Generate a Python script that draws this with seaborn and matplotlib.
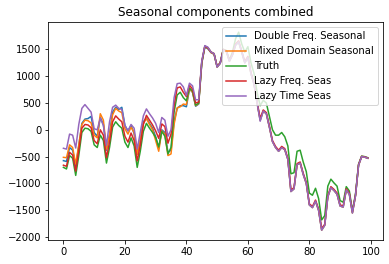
import matplotlib
matplotlib.use("Agg")
import matplotlib.pyplot as plt
import seaborn as sns
import numpy as np
import pandas as pd

x = list(range(100))

truth = [-700, -730, -480, -530, -850, -480, -50, 30, 20, -30,
         -280, -330, -100, -200, -620, -330, 50, 150, 80, 30,
         -230, -330, -150, -300, -700, -400, -30, 120, 30, -50,
         -140, -320, -30, -120, -450, -330, 330, 650, 700, 600,
         540, 780, 720, 460, 500, 1250, 1560, 1530, 1450, 1420,
         1180, 1250, 1500, 1480, 1300, 1450, 1700, 1820, 1600, 1450,
         1550, 1250, 1050, 700, 450, 550, 500, 250, 0, -100,
         -100, -50, -130, -300, -820, -800, -400, -380, -600, -780,
         -1180, -1220, -1090, -1280, -1680, -1600, -1050, -920, -990, -1050,
         -1320, -1350, -1060, -1140, -1510, -1200, -640, -490, -500, -520]

double_freq = [-575, -590, -330, -380, -680, -300, 120, 200, 210, 250,
               -50, -120, 230, 100, -380, -80, 330, 420, 380, 420,
               80, -20, 80, -70, -450, -200, 150, 220, 120, 30,
               -130, -350, 0, -50, -420, -380, 150, 400, 450, 450,
               430, 760, 700, 440, 480, 1240, 1540, 1510, 1440, 1410,
               1170, 1240, 1490, 1460, 1280, 1400, 1580, 1640, 1450, 1250,
               1350, 1050, 850, 500, 180, 350, 300, 50, -220, -330,
               -400, -330, -370, -550, -1150, -1100, -650, -620, -830, -1000,
               -1400, -1450, -1330, -1500, -1870, -1780, -1250, -1080, -1130, -1200,
               -1420, -1440, -1120, -1200, -1550, -1230, -660, -500, -510, -530]

mixed_domain = [-513, -520, -280, -330, -640, -280, 100, 180, 170, 130,
                -100, -150, 300, 180, -360, -100, 280, 400, 350, 320,
                20, -80, 50, -50, -460, -180, 120, 210, 100, 0,
                -200, -400, -20, -80, -480, -450, 100, 410, 430, 480,
                470, 770, 700, 450, 490, 1250, 1550, 1520, 1440, 1410,
                1170, 1240, 1490, 1460, 1280, 1400, 1580, 1640, 1450, 1250,
                1350, 1050, 850, 500, 180, 350, 300, 50, -220, -330,
                -400, -330, -370, -550, -1150, -1100, -650, -620, -830, -1000,
                -1400, -1450, -1330, -1500, -1870, -1780, -1250, -1080, -1130, -1200,
                -1420, -1440, -1120, -1200, -1550, -1230, -660, -500, -510, -530]

lazy_freq = [-660, -680, -420, -470, -770, -380, 30, 100, 90, 40,
             -200, -260, 0, -100, -520, -230, 150, 260, 200, 150,
             -120, -230, -60, -200, -580, -290, 100, 270, 180, 90,
             -20, -160, 110, 60, -250, -80, 450, 780, 800, 700,
             620, 830, 760, 500, 520, 1270, 1560, 1530, 1450, 1420,
             1180, 1250, 1500, 1470, 1290, 1420, 1600, 1660, 1470, 1270,
             1370, 1070, 870, 520, 210, 370, 320, 70, -200, -310,
             -380, -310, -350, -530, -1120, -1080, -630, -600, -810, -980,
             -1380, -1430, -1310, -1480, -1840, -1760, -1230, -1060, -1110, -1180,
             -1400, -1420, -1100, -1180, -1530, -1220, -650, -495, -505, -525]

lazy_time = [-344, -360, -80, -100, -340, 100, 400, 470, 400, 330,
             20, 0, 220, 80, -290, 150, 420, 460, 400, 380,
             80, -20, 100, 30, -360, -50, 260, 390, 300, 220,
             120, -50, 230, 180, -120, 0, 600, 860, 870, 800,
             640, 870, 820, 560, 560, 1280, 1570, 1540, 1450, 1420,
             1170, 1240, 1490, 1460, 1280, 1400, 1580, 1640, 1450, 1250,
             1350, 1050, 850, 500, 160, 350, 300, 50, -220, -330,
             -400, -330, -370, -550, -1150, -1100, -650, -620, -830, -1000,
             -1400, -1450, -1330, -1500, -1870, -1780, -1250, -1080, -1130, -1200,
             -1420, -1440, -1120, -1200, -1550, -1230, -660, -500, -510, -530]

labels = ["Double Freq. Seasonal", "Mixed Domain Seasonal", "Truth",
          "Lazy Freq. Seas", "Lazy Time Seas"]
series = [double_freq, mixed_domain, truth, lazy_freq, lazy_time]
colors = ["#1f77b4", "#ff7f0e", "#2ca02c", "#d62728", "#9467bd"]

plt.rcParams["font.family"] = ["DejaVu Sans"]
fig = plt.figure(figsize=(389 / 72, 264 / 72), dpi=72)
ax = fig.add_axes([48.2 / 389, 24 / 264, (383 - 48.2) / 389, (241.7 - 24) / 264])

for lab, vals, col in zip(labels, series, colors):
    df = pd.DataFrame({"x": x, "y": vals})
    sns.lineplot(data=df, x="x", y="y", ax=ax, label=lab, color=col, linewidth=1.5)

ax.set_xlabel("")
ax.set_ylabel("")
ax.set_title("Seasonal components combined", fontsize=12)
ax.set_xticks([0, 20, 40, 60, 80, 100])
ax.set_yticks([-2000, -1500, -1000, -500, 0, 500, 1000, 1500])
ax.legend(loc="upper right", fontsize=10)
fig.savefig("out.png", dpi=72)
